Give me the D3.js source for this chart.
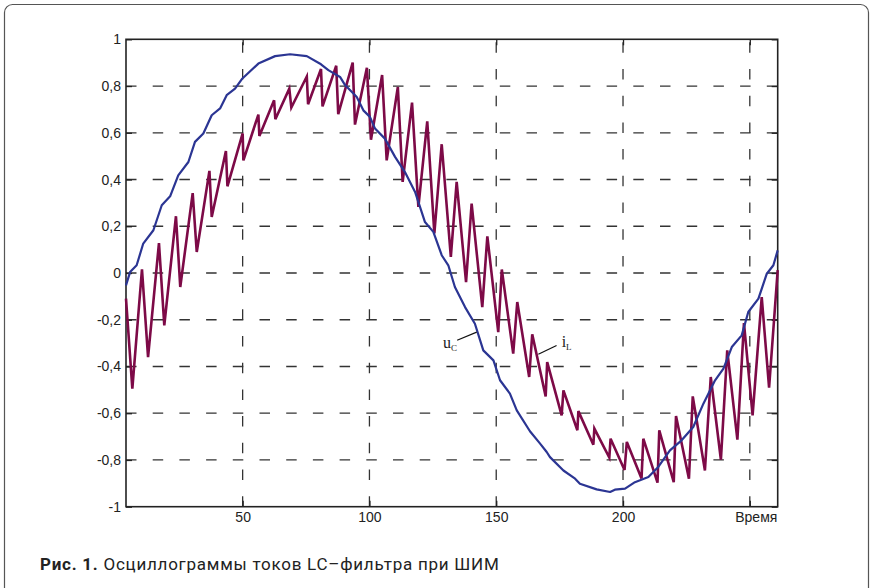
<!DOCTYPE html>
<html>
<head>
<meta charset="utf-8">
<script src="https://cdn.jsdelivr.net/npm/d3@7/dist/d3.min.js"></script>
<style>
  body { margin: 0; background: #fff; }
</style>
</head>
<body>
<script>
    // axis ticks
    var xTicks = [50, 100, 150, 200, 250];
    var xTickLabels = ["50", "100", "150", "200", "Время"];
    var yTicks = [-1, -0.8, -0.6, -0.4, -0.2, 0, 0.2, 0.4, 0.6, 0.8, 1];
    var yTickLabels = ["-1", "-0,8", "-0,6", "-0,4", "-0,2", "0", "0,2", "0,4", "0,6", "0,8", "1"];

    // capacitor voltage u_C
    var ucX = [4, 5.6, 8.2, 10.8, 14.8, 18.1, 21.4, 24.6, 28.6, 31.2, 34.5, 37.8, 41.1, 43.7, 47.0, 49.7,
        56.2, 62.8, 68.7, 75.3, 80.9, 83.8, 88.4, 90.4, 95.0, 97.6, 100.2, 102.2, 106.1, 110.1, 114.0, 118.0,
        121.9, 125.2, 128.5, 131.1, 133.7, 137.7, 141.6, 144.9, 148.9, 151.5, 155.4, 158.1, 163.3, 167.3,
        169.9, 171.2, 176.5, 181.1, 183.0, 189.6, 194.9, 196.8, 200.8, 204.7, 210.0, 213.9, 218.5, 223.1,
        227.7, 231.7, 236.3, 239.6, 242.9, 246.8, 249.4, 253.4, 256.7, 259.3, 261];
    var ucY = [-0.053, 0.004, 0.033, 0.126, 0.183, 0.29, 0.328, 0.418, 0.475, 0.561, 0.597, 0.675, 0.704, 0.761, 0.789, 0.83,
        0.896, 0.928, 0.936, 0.928, 0.893, 0.868, 0.839, 0.804, 0.753, 0.696, 0.668, 0.618, 0.575, 0.497, 0.432, 0.347,
        0.218, 0.176, 0.076, 0.033, -0.06, -0.146, -0.217, -0.331, -0.374, -0.459, -0.516, -0.588, -0.677, -0.73,
        -0.766, -0.788, -0.845, -0.88, -0.902, -0.926, -0.937, -0.927, -0.923, -0.895, -0.873, -0.83, -0.759, -0.716,
        -0.659, -0.559, -0.459, -0.409, -0.317, -0.267, -0.167, -0.11, -0.003, 0.033, 0.097];

    // inductor current i_L (PWM sawtooth vertices)
    var ilX = [4, 6.5, 10.3, 12.7, 17.0, 19.1, 23.7, 25.4, 30.3, 31.9, 36.9, 37.8, 43.4, 44.0, 50.0, 50.3,
        56.2, 56.6, 62.4, 62.9, 68.4, 69.2, 75.3, 75.8, 80.9, 81.5, 86.9, 87.7, 93.4, 94.3, 99.0, 100.6,
        105.0, 106.8, 111.2, 113.1, 116.8, 119.3, 122.8, 125.6, 128.5, 132.1, 134.4, 138.1, 140.3, 144.5,
        146.5, 150.8, 152.2, 156.7, 158.3, 163.0, 164.2, 169.5, 170.1, 175.8, 176.5, 182.0, 182.4, 188.3,
        188.7, 194.6, 195.1, 200.6, 201.5, 207.3, 208.0, 213.6, 214.3, 220.0, 220.9, 226.0, 227.5, 232.3,
        234.6, 238.6, 241.1, 245.1, 247.7, 251.1, 254.7, 257.6, 261];
    var ilY = [-0.11, -0.495, 0.016, -0.36, 0.128, -0.224, 0.243, -0.06, 0.342, 0.09, 0.437, 0.24, 0.522, 0.371, 0.597, 0.482,
        0.678, 0.586, 0.739, 0.658, 0.789, 0.708, 0.841, 0.722, 0.873, 0.713, 0.887, 0.68, 0.9, 0.635, 0.878, 0.57,
        0.847, 0.482, 0.796, 0.39, 0.729, 0.283, 0.649, 0.169, 0.551, 0.069, 0.39, -0.039, 0.297, -0.146,
        0.157, -0.253, 0.015, -0.345, -0.124, -0.445, -0.262, -0.528, -0.381, -0.609, -0.502, -0.673, -0.591, -0.735,
        -0.666, -0.79, -0.709, -0.843, -0.723, -0.879, -0.709, -0.897, -0.673, -0.895, -0.612, -0.88, -0.528, -0.845,
        -0.445, -0.799, -0.331, -0.713, -0.214, -0.609, -0.103, -0.491, 0.012];

    // curve labels: [text, subscript, x, y, leader x1, y1, x2, y2]
    var notes = [
        ["u", "C", 129.0, -0.322, 134.6, -0.288, 142.3, -0.253],
        ["i", "L", 175.8, -0.317, 173.8, -0.31, 166.6, -0.348]
    ];

    var caption = ["Рис. 1.", " Осциллограммы токов LC–фильтра при ШИМ"];

    var width = 876, height = 588;
    var margin = {"top": 39.3, "bottom": 81.3, "left": 126, "right": 98.3};

    var svg = d3.select("body")
        .append("svg")
        .attr("width", width)
        .attr("height", height);

    svg.append("rect")
        .attr("width", width)
        .attr("height", height)
        .attr("fill", "#fff");

    // figure frame
    svg.append("rect")
        .attr("x", 4.5)
        .attr("y", 4.5)
        .attr("width", 864)
        .attr("height", 640)
        .attr("rx", 8)
        .attr("fill", "none")
        .attr("stroke", "#555")
        .attr("stroke-width", 1.2);

    var xScale = d3.scaleLinear()
        .domain([4, 261])
        .range([margin.left, width - margin.right]);

    var yScale = d3.scaleLinear()
        .domain([-1, 1])
        .range([height - margin.bottom, margin.top]);

    //grid
    var grid = svg.append("g")
        .attr("stroke", "#333")
        .attr("stroke-width", 1.3)
        .attr("stroke-dasharray", "10.5,16.2");

    grid.selectAll(".hgrid")
        .data(yTicks.filter(d => d > -1 && d < 1))
        .enter()
        .append("line")
        .attr("x1", xScale(4))
        .attr("x2", xScale(261))
        .attr("y1", d => yScale(d))
        .attr("y2", d => yScale(d));

    grid.selectAll(".vgrid")
        .data(xTicks)
        .enter()
        .append("line")
        .attr("x1", d => xScale(d))
        .attr("x2", d => xScale(d))
        .attr("y1", yScale(-1))
        .attr("y2", yScale(1));

    //axes
    var xAxis = svg.append("g")
        .attr("transform", "translate(0," + yScale(-1) + ")")
        .call(d3.axisBottom(xScale).tickValues(xTicks).tickFormat((d, i) => xTickLabels[i]).tickSize(-6).tickPadding(5));

    xAxis.selectAll("text")
        .attr("dx", (d, i) => i == xTicks.length - 1 ? 6 : 0);

    var yAxis = svg.append("g")
        .attr("transform", "translate(" + xScale(4) + ",0)")
        .call(d3.axisLeft(yScale).tickValues(yTicks).tickFormat((d, i) => yTickLabels[i]).tickSize(-6).tickPadding(5));

    svg.append("g")
        .attr("transform", "translate(" + xScale(261) + ",0)")
        .call(d3.axisRight(yScale).tickValues(yTicks).tickFormat("").tickSize(-6));

    svg.append("g")
        .attr("transform", "translate(0," + yScale(1) + ")")
        .call(d3.axisTop(xScale).tickValues(xTicks).tickFormat("").tickSize(-6));

    svg.selectAll(".domain").remove();
    svg.selectAll(".tick line")
        .attr("stroke", "#222")
        .attr("stroke-width", 1.3);
    svg.selectAll(".tick text")
        .attr("fill", "#222")
        .style("font-family", "Liberation Sans, Arial, sans-serif")
        .style("font-size", "14px");

    // box
    svg.append("rect")
        .attr("x", xScale(4))
        .attr("y", yScale(1))
        .attr("width", xScale(261) - xScale(4))
        .attr("height", yScale(-1) - yScale(1))
        .attr("fill", "none")
        .attr("stroke", "#222")
        .attr("stroke-width", 1.6);

    //data
    var ilLine = d3.line()
        .x((d, i) => xScale(ilX[i]))
        .y(d => yScale(d));

    var ucLine = d3.line()
        .x((d, i) => xScale(ucX[i]))
        .y(d => yScale(d));

    svg.append("path")
        .attr("d", ilLine(ilY))
        .attr("fill", "none")
        .attr("stroke", "#7d0a47")
        .attr("stroke-width", 2.6)
        .attr("stroke-linejoin", "miter");

    svg.append("path")
        .attr("d", ucLine(ucY))
        .attr("fill", "none")
        .attr("stroke", "#2b3593")
        .attr("stroke-width", 2.2)
        .attr("stroke-linejoin", "round");

    //labels
    var note = svg.append("g")
        .selectAll("g")
        .data(notes)
        .enter()
        .append("g");

    note.append("line")
        .attr("x1", d => xScale(d[4]))
        .attr("y1", d => yScale(d[5]))
        .attr("x2", d => xScale(d[6]))
        .attr("y2", d => yScale(d[7]))
        .attr("stroke", "#111")
        .attr("stroke-width", 1.2);

    var noteText = note.append("text")
        .attr("x", d => xScale(d[2]))
        .attr("y", d => yScale(d[3]))
        .style("font-family", "Liberation Serif, Times New Roman, serif")
        .style("font-size", "16px")
        .attr("fill", "#222");
    noteText.append("tspan").text(d => d[0]);
    noteText.append("tspan")
        .attr("dy", 3)
        .style("font-size", "9px")
        .text(d => d[1]);

    //caption
    var cap = svg.append("text")
        .attr("x", 40)
        .attr("y", 570)
        .style("font-family", "Roboto, sans-serif")
        .style("font-size", "17px")
        .style("letter-spacing", "0.75px")
        .attr("fill", "#222");
    cap.append("tspan")
        .style("font-weight", "bold")
        .text(caption[0]);
    cap.append("tspan")
        .text(caption[1]);
</script>
</body>
</html>
